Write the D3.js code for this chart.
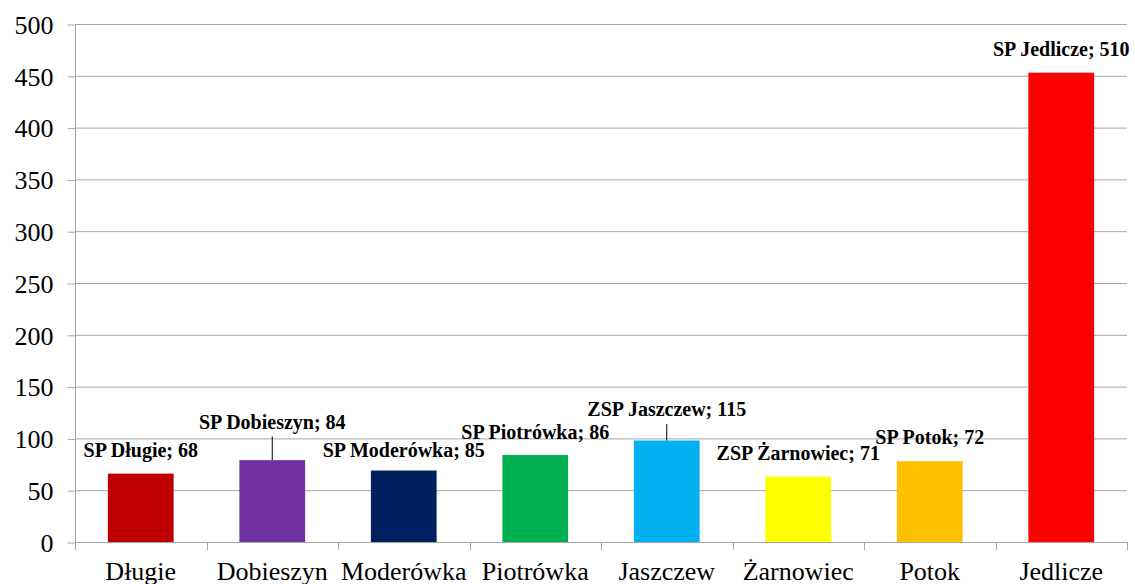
<!DOCTYPE html>
<html>
<head>
<meta charset="utf-8">
<script src="https://cdn.jsdelivr.net/npm/d3@7"></script>
<style>
  html, body { margin: 0; padding: 0; background: #fff; }
  svg { display: block; }
  svg text { font-family: "Liberation Serif", "Times New Roman", serif; }
</style>
</head>
<body>
<svg id="chart" width="1135" height="584"></svg>
<script>
const categories = ["Długie", "Dobieszyn", "Moderówka", "Piotrówka", "Jaszczew", "Żarnowiec", "Potok", "Jedlicze"];
const barValues = [66, 79, 69, 84, 98, 63, 78, 453];
const labelTexts = ["SP Długie; 68", "SP Dobieszyn; 84", "SP Moderówka; 85", "SP Piotrówka; 86", "ZSP Jaszczew; 115", "ZSP Żarnowiec; 71", "SP Potok; 72", "SP Jedlicze; 510"];
const labelAt = [82, 109.5, 82, 99, 121.5, 79, 94.5, 469];
const hasLeader = [false, true, false, false, true, false, false, false];
const colors = ["#C00000", "#7030A0", "#002060", "#00B050", "#00B0F0", "#FFFF00", "#FFC000", "#FF0000"];
const yTicks = [0, 50, 100, 150, 200, 250, 300, 350, 400, 450, 500];

const svg = d3.select("#chart");
const mLeft = 75, mRight = 1127, mTop = 24, mBottom = 542;
const serif = '"Liberation Serif", "Times New Roman", serif';

const x = d3.scaleBand().domain(categories).range([mLeft, mRight]).paddingInner(0.5).paddingOuter(0.25);
const y = d3.scaleLinear().domain([0, 500]).range([mBottom, mTop]);
const xb = d3.scaleBand().domain(categories).range([mLeft, mRight]);

// gridlines
svg.append("g").selectAll("line").data(yTicks.filter(d => d > 0)).join("line")
  .attr("x1", mLeft).attr("x2", mRight)
  .attr("y1", d => y(d) + 0.5).attr("y2", d => y(d) + 0.5)
  .attr("stroke", "#a6a6a6").attr("stroke-width", 1);

// y axis
const yAxis = svg.append("g").attr("transform", `translate(${mLeft + 0.5},0)`)
  .call(d3.axisLeft(y).tickValues(yTicks).tickSize(8).tickPadding(14));
yAxis.attr("font-family", null);
yAxis.select(".domain").attr("stroke", "#a6a6a6").attr("d", `M0,${y(0) + 8}V${y(500)}`);
yAxis.selectAll(".tick line").attr("stroke", "#a6a6a6").attr("transform", "translate(0,0.5)");
yAxis.selectAll(".tick text").style("font-family", serif).attr("font-size", 26).attr("fill", "#000").attr("dy", "0.36em");

// bars
svg.append("g").selectAll("rect").data(categories).join("rect")
  .attr("x", d => x(d))
  .attr("width", x.bandwidth())
  .attr("y", (d, i) => y(barValues[i]))
  .attr("height", (d, i) => y(0) - y(barValues[i]))
  .attr("fill", (d, i) => colors[i]);

// x axis
svg.append("line").attr("x1", mLeft).attr("x2", mRight).attr("y1", mBottom + 0.5).attr("y2", mBottom + 0.5)
  .attr("stroke", "#a6a6a6");
const xTickPos = d3.range(categories.length + 1).map(i => mLeft + i * xb.step());
svg.append("g").selectAll("line").data(xTickPos).join("line")
  .attr("x1", d => Math.round(d) + 0.5).attr("x2", d => Math.round(d) + 0.5)
  .attr("y1", mBottom).attr("y2", mBottom + 8)
  .attr("stroke", "#a6a6a6");
svg.append("g").selectAll("text").data(categories).join("text")
  .attr("x", d => x(d) + x.bandwidth() / 2)
  .attr("y", 580)
  .attr("text-anchor", "middle")
  .style("font-family", serif)
  .attr("font-size", 26)
  .attr("fill", "#000")
  .text(d => d);

// leader lines
svg.append("g").selectAll("line").data(categories.filter((d, i) => hasLeader[i])).join("line")
  .attr("x1", d => x(d) + x.bandwidth() / 2)
  .attr("x2", d => x(d) + x.bandwidth() / 2)
  .attr("y1", d => y(labelAt[categories.indexOf(d)]) + 8)
  .attr("y2", d => y(barValues[categories.indexOf(d)]))
  .attr("stroke", "#000").attr("stroke-width", 1);

// data labels
svg.append("g").selectAll("text").data(categories).join("text")
  .attr("x", d => x(d) + x.bandwidth() / 2)
  .attr("y", (d, i) => y(labelAt[i]))
  .attr("text-anchor", "middle")
  .style("font-family", serif)
  .attr("font-size", 20)
  .attr("font-weight", "bold")
  .attr("fill", "#000")
  .text((d, i) => labelTexts[i]);
</script>
</body>
</html>
